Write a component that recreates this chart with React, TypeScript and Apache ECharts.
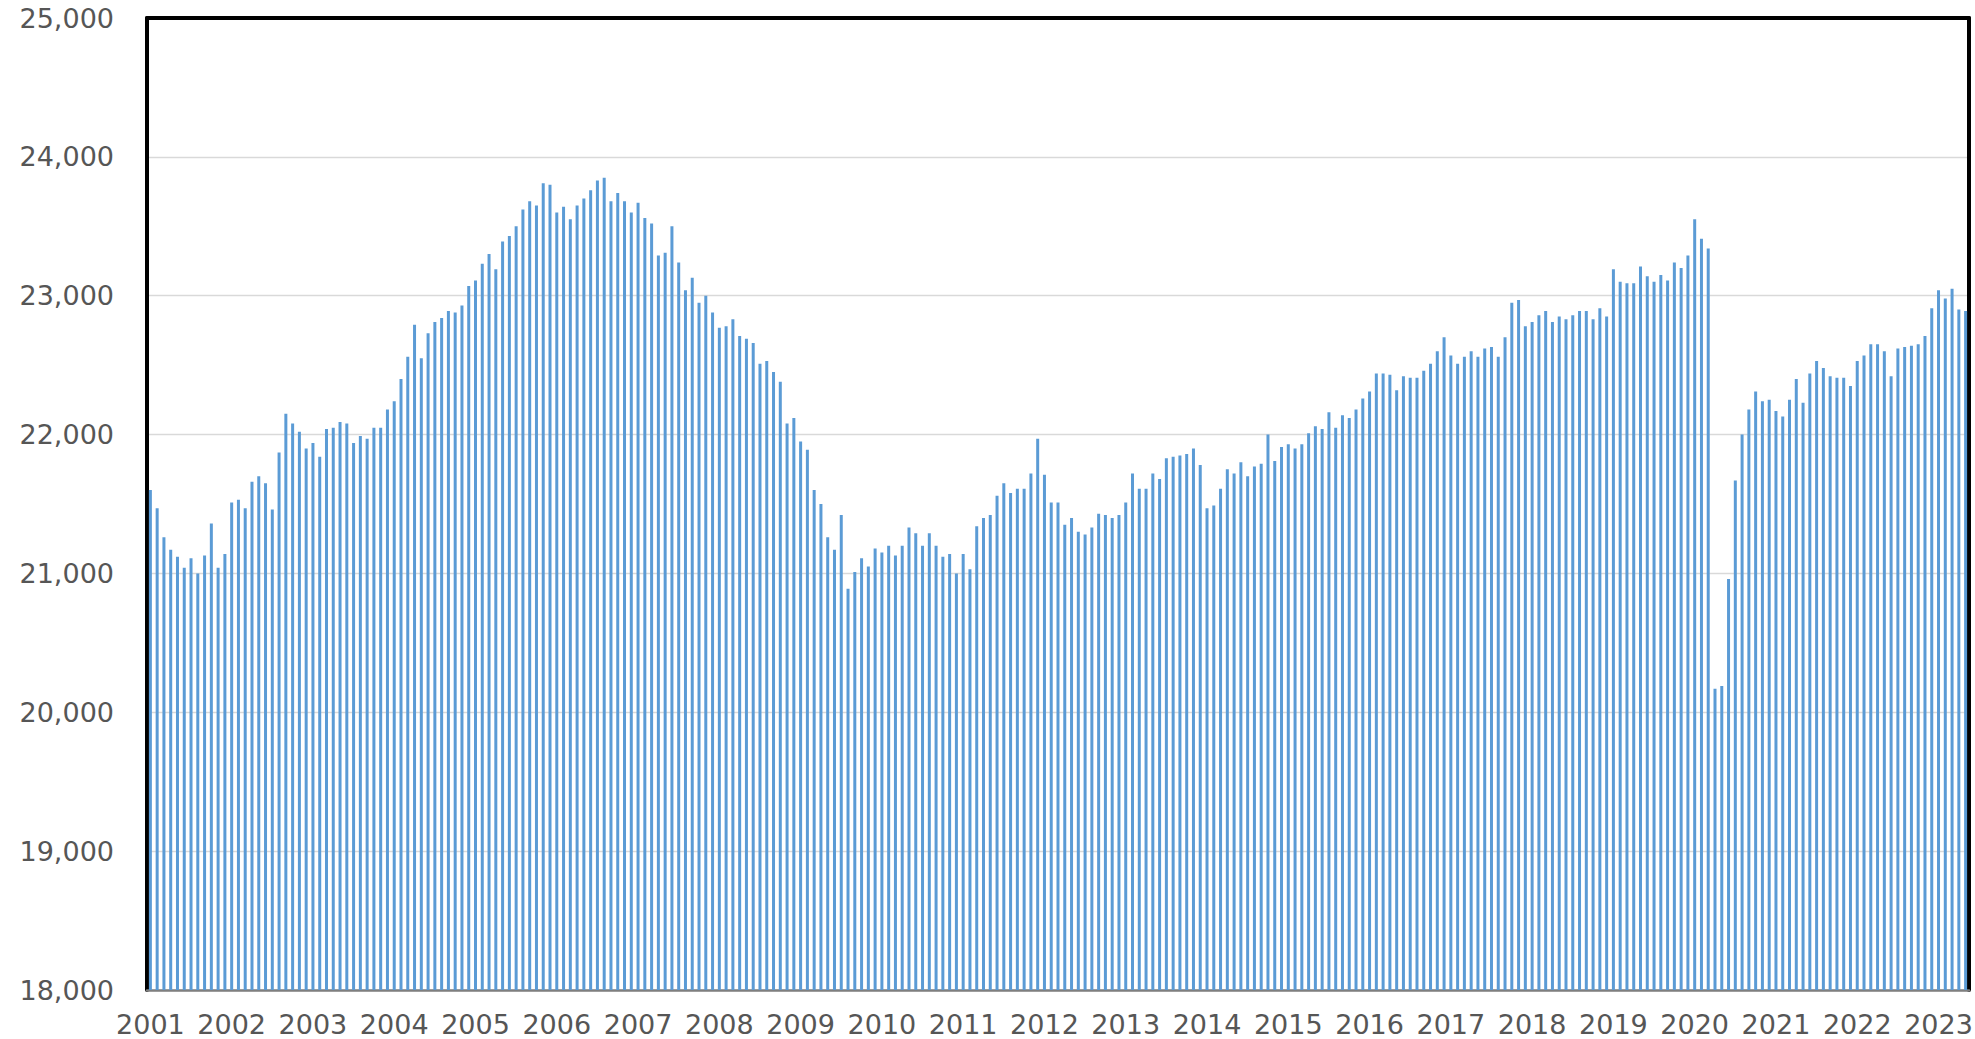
import React, { useEffect, useRef } from "react";
import * as echarts from "echarts";

const years = [
  "2001", "2002", "2003", "2004", "2005", "2006", "2007", "2008", "2009", "2010", "2011", "2012",
  "2013", "2014", "2015", "2016", "2017", "2018", "2019", "2020", "2021", "2022", "2023",
];

const v2001 = [21600, 21470, 21260, 21170, 21120, 21040, 21110, 21000, 21130, 21360, 21040, 21140];
const v2002 = [21510, 21530, 21470, 21660, 21700, 21650, 21460, 21870, 22150, 22080, 22020, 21900];
const v2003 = [21940, 21840, 22040, 22050, 22090, 22080, 21940, 21990, 21970, 22050, 22050, 22180];
const v2004 = [22240, 22400, 22560, 22790, 22550, 22730, 22810, 22840, 22890, 22880, 22930, 23070];
const v2005 = [23110, 23230, 23300, 23190, 23390, 23430, 23500, 23620, 23680, 23650, 23810, 23800];
const v2006 = [23600, 23640, 23550, 23650, 23700, 23760, 23830, 23850, 23680, 23740, 23680, 23600];
const v2007 = [23670, 23560, 23520, 23290, 23310, 23500, 23240, 23040, 23130, 22950, 23000, 22880];
const v2008 = [22770, 22780, 22830, 22710, 22690, 22660, 22510, 22530, 22450, 22380, 22080, 22120];
const v2009 = [21950, 21890, 21600, 21500, 21260, 21170, 21420, 20890, 21010, 21110, 21050, 21180];
const v2010 = [21150, 21200, 21130, 21200, 21330, 21290, 21200, 21290, 21200, 21120, 21140, 21000];
const v2011 = [21140, 21030, 21340, 21400, 21420, 21560, 21650, 21580, 21610, 21610, 21720, 21970];
const v2012 = [21710, 21510, 21510, 21350, 21400, 21300, 21280, 21330, 21430, 21420, 21400, 21420];
const v2013 = [21510, 21720, 21610, 21610, 21720, 21680, 21830, 21840, 21850, 21860, 21900, 21780];
const v2014 = [21470, 21490, 21610, 21750, 21720, 21800, 21700, 21770, 21790, 22000, 21810, 21910];
const v2015 = [21930, 21900, 21930, 22010, 22060, 22040, 22160, 22050, 22140, 22120, 22180, 22260];
const v2016 = [22310, 22440, 22440, 22430, 22320, 22420, 22410, 22410, 22460, 22510, 22600, 22700];
const v2017 = [22570, 22510, 22560, 22600, 22560, 22620, 22630, 22560, 22700, 22950, 22970, 22780];
const v2018 = [22810, 22860, 22890, 22810, 22850, 22830, 22860, 22890, 22890, 22830, 22910, 22850];
const v2019 = [23190, 23100, 23090, 23090, 23210, 23140, 23100, 23150, 23110, 23240, 23200, 23290];
const v2020 = [23550, 23410, 23340, 20170, 20190, 20960, 21670, 22000, 22180, 22310, 22240, 22250];
const v2021 = [22170, 22130, 22250, 22400, 22230, 22440, 22530, 22480, 22420, 22410, 22410, 22350];
const v2022 = [22530, 22570, 22650, 22650, 22600, 22420, 22620, 22630, 22640, 22650, 22710, 22910];
const v2023 = [23040, 22980, 23050, 22900, 22890];

const yearValues = [
  v2001, v2002, v2003, v2004, v2005, v2006, v2007, v2008, v2009, v2010, v2011, v2012,
  v2013, v2014, v2015, v2016, v2017, v2018, v2019, v2020, v2021, v2022, v2023,
];

const yMin = 18000;
const yMax = 25000;
const yStep = 1000;

export default function App() {
  const ref = useRef<HTMLDivElement>(null);

  useEffect(() => {
    if (!ref.current) return;
    const chart = echarts.init(ref.current, null, { renderer: "svg" });

    const categories: string[] = [];
    const values: number[] = [];
    yearValues.forEach((arr, yi) => {
      arr.forEach((v, mi) => {
        categories.push(`${years[yi]}-${String(mi + 1).padStart(2, "0")}`);
        values.push(v);
      });
    });

    const labelStyle = {
      color: "#565656",
      fontSize: 27,
      fontFamily: "DejaVu Sans",
    };

    chart.setOption({
      animation: false,
      backgroundColor: "#ffffff",
      grid: {
        left: 147,
        right: 6,
        top: 18,
        bottom: 49,
        containLabel: false,
        outerBoundsMode: "none",
      },
      xAxis: [
        {
          type: "category",
          data: categories,
          boundaryGap: true,
          position: "bottom",
          axisLine: { show: true, lineStyle: { color: "#7f7f7f", width: 2.5 } },
          axisTick: { show: false },
          splitLine: { show: false },
          axisLabel: {
            ...labelStyle,
            interval: 11,
            margin: 22,
            lineHeight: 24,
            formatter: (v: string) => v.slice(0, 4),
          },
        },
        {
          type: "category",
          data: categories,
          position: "top",
          axisLine: { show: true, lineStyle: { color: "#000000", width: 4 } },
          axisTick: { show: false },
          axisLabel: { show: false },
          splitLine: { show: false },
        },
      ],
      yAxis: [
        {
          type: "value",
          min: yMin,
          max: yMax,
          interval: yStep,
          position: "left",
          axisLine: { show: true, lineStyle: { color: "#000000", width: 4 } },
          axisTick: { show: false },
          splitLine: { show: true, lineStyle: { color: "#d9d9d9", width: 1.3 } },
          axisLabel: {
            ...labelStyle,
            margin: 33,
            lineHeight: 24,
            formatter: (v: number) => v.toLocaleString("en-US"),
          },
        },
        {
          type: "value",
          min: yMin,
          max: yMax,
          interval: yStep,
          position: "right",
          axisLine: { show: true, lineStyle: { color: "#000000", width: 4 } },
          axisTick: { show: false },
          splitLine: { show: false },
          axisLabel: { show: false },
        },
      ],
      series: [
        {
          type: "bar",
          xAxisIndex: 0,
          yAxisIndex: 0,
          data: values,
          barWidth: 3,
          itemStyle: { color: "#5B9BD5" },
        },
      ],
    });

    return () => chart.dispose();
  }, []);

  return (
    <div
      ref={ref}
      style={{ position: "fixed", left: 0, top: 0, width: 1975, height: 1039, background: "#fff" }}
    />
  );
}
